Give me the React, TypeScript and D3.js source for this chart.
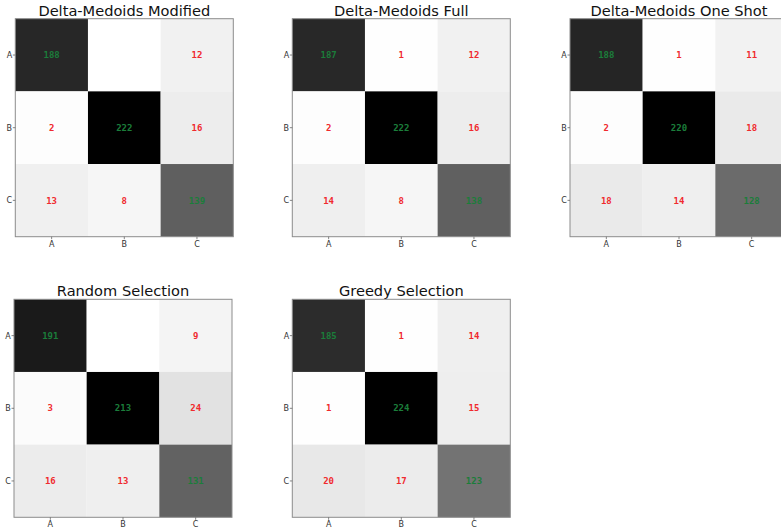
import React from "react";
import * as d3 from "d3";

// Class labels shared by every confusion matrix
const classes = ["A", "B", "C"];

// Confusion matrices: rows = true class, columns = predicted class
const deltaMedoidsModified = [
  [188, 0, 12],
  [2, 222, 16],
  [13, 8, 139],
];
const deltaMedoidsFull = [
  [187, 1, 12],
  [2, 222, 16],
  [14, 8, 138],
];
const deltaMedoidsOneShot = [
  [188, 1, 11],
  [2, 220, 18],
  [18, 14, 128],
];
const randomSelection = [
  [191, 0, 9],
  [3, 213, 24],
  [16, 13, 131],
];
const greedySelection = [
  [185, 1, 14],
  [1, 224, 15],
  [20, 17, 123],
];

const titles = [
  "Delta-Medoids Modified",
  "Delta-Medoids Full",
  "Delta-Medoids One Shot",
  "Random Selection",
  "Greedy Selection",
];
const matrices = [
  deltaMedoidsModified,
  deltaMedoidsFull,
  deltaMedoidsOneShot,
  randomSelection,
  greedySelection,
];

const WIDTH = 781;
const HEIGHT = 531;
const SIZE = 218;
// top-left corner of each matrix panel
const panelOrigins: [number, number][] = [
  [15.3, 18.7],
  [292.3, 18.7],
  [570, 18.7],
  [14, 299.3],
  [292.3, 299.3],
];

const FONT = "'DejaVu Sans', sans-serif";

function Matrix({ title, data, x0, y0 }: { title: string; data: number[][]; x0: number; y0: number }) {
  const band = d3.scaleBand<string>().domain(classes).range([0, SIZE]);
  const vmax = d3.max(data.flat()) as number;
  const shade = d3.scaleLinear<string>().domain([0, vmax]).range(["#ffffff", "#000000"]).interpolate(d3.interpolateRgb);
  const bw = band.bandwidth();
  return (
    <g transform={`translate(${x0},${y0})`}>
      <text x={SIZE / 2} y={-3} textAnchor="middle" fontFamily={FONT} fontSize={14.6} fill="#111">
        {title}
      </text>
      {data.map((row, i) =>
        row.map((v, j) => (
          <rect
            key={`c${i}-${j}`}
            x={band(classes[j])}
            y={band(classes[i])}
            width={bw}
            height={bw}
            fill={shade(v)}
          />
        ))
      )}
      {data.map((row, i) =>
        row.map((v, j) =>
          v === 0 ? null : (
            <text
              key={`t${i}-${j}`}
              x={(band(classes[j]) as number) + bw / 2}
              y={(band(classes[i]) as number) + bw / 2 + 3.2}
              textAnchor="middle"
              fontFamily="'DejaVu Sans Mono', monospace"
              fontWeight="bold"
              fontSize={9}
              fill={i === j ? "#1b7d3a" : "#f02a2e"}
            >
              {v}
            </text>
          )
        )
      )}
      <rect x={0} y={0} width={SIZE} height={SIZE} fill="none" stroke="#8c8c8c" strokeWidth={1} />
      {classes.map((c) => {
        const p = (band(c) as number) + bw / 2;
        return (
          <g key={`x${c}`}>
            <line x1={p} x2={p} y1={SIZE} y2={SIZE + 2.5} stroke="#666" strokeWidth={0.8} />
            <text x={p} y={SIZE + 10} textAnchor="middle" fontFamily={FONT} fontSize={8} fill="#333">
              {c}
            </text>
          </g>
        );
      })}
      {classes.map((c) => {
        const p = (band(c) as number) + bw / 2;
        return (
          <g key={`y${c}`}>
            <line x1={-2.5} x2={0} y1={p} y2={p} stroke="#666" strokeWidth={0.8} />
            <text x={-3.2} y={p + 2.9} textAnchor="end" fontFamily={FONT} fontSize={8} fill="#333">
              {c}
            </text>
          </g>
        );
      })}
    </g>
  );
}

export default function App() {
  return (
    <svg
      width={WIDTH}
      height={HEIGHT}
      style={{ position: "absolute", left: 0, top: 0, background: "#fff" }}
    >
      <rect width={WIDTH} height={HEIGHT} fill="#fff" />
      {matrices.map((m, k) => (
        <Matrix key={titles[k]} title={titles[k]} data={m} x0={panelOrigins[k][0]} y0={panelOrigins[k][1]} />
      ))}
    </svg>
  );
}
